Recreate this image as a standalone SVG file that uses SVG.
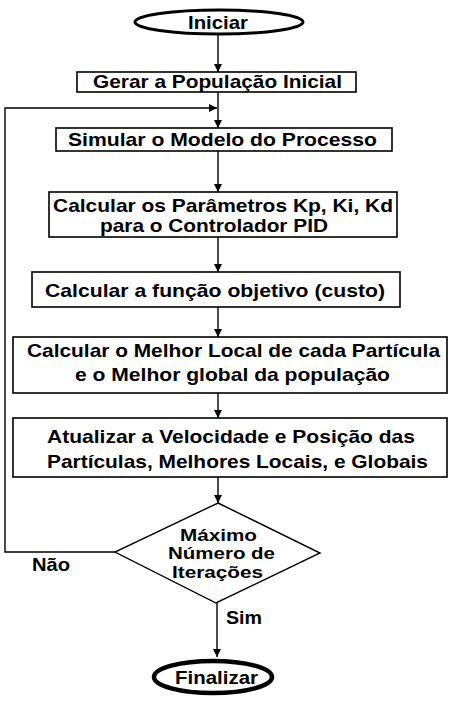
<svg xmlns="http://www.w3.org/2000/svg" width="461" height="708" viewBox="0 0 461 708">
<style>
text{font-family:"Liberation Sans",Arial,sans-serif;font-weight:bold;font-size:19px;fill:#000}
.dt{font-size:16.5px}
.box{fill:#fff;stroke:#000;stroke-width:1.6}
.ln{fill:none;stroke:#000;stroke-width:1.4}
</style>
<defs>
<marker id="ah" viewBox="0 0 10 10" refX="10" refY="5" markerWidth="8" markerHeight="8" markerUnits="userSpaceOnUse" orient="auto">
<path d="M0,0 L10,5 L0,10 Z" fill="#000"/>
</marker>
</defs>
<rect width="461" height="708" fill="#fff"/>
<g id="connectors">
<line class="ln" x1="218" y1="34" x2="218" y2="72" marker-end="url(#ah)"/>
<line class="ln" x1="218" y1="92" x2="218" y2="128" marker-end="url(#ah)"/>
<line class="ln" x1="218" y1="151" x2="218" y2="192" marker-end="url(#ah)"/>
<line class="ln" x1="218" y1="237" x2="218" y2="272" marker-end="url(#ah)"/>
<line class="ln" x1="218" y1="307" x2="218" y2="337" marker-end="url(#ah)"/>
<line class="ln" x1="218" y1="393" x2="218" y2="418" marker-end="url(#ah)"/>
<line class="ln" x1="218" y1="477" x2="218" y2="503" marker-end="url(#ah)"/>
<line class="ln" x1="217" y1="603" x2="217" y2="657" marker-end="url(#ah)"/>
<polyline class="ln" points="115,552 5,552 5,108 217,108" marker-end="url(#ah)"/>
<text x="32" y="571" textLength="38" lengthAdjust="spacingAndGlyphs">Não</text>
<text x="226" y="624" textLength="36" lengthAdjust="spacingAndGlyphs">Sim</text>
</g>
<g id="iniciar">
<ellipse cx="219" cy="22" rx="84" ry="12" fill="#fff" stroke="#000" stroke-width="3"/>
<text x="188" y="29" textLength="60" lengthAdjust="spacingAndGlyphs">Iniciar</text>
</g>
<g id="gerar">
<rect class="box" x="77" y="72" width="279" height="20"/>
<text x="93" y="88" textLength="249" lengthAdjust="spacingAndGlyphs">Gerar a População Inicial</text>
</g>
<g id="simular">
<rect class="box" x="56" y="128" width="336" height="23"/>
<text x="68" y="146" textLength="309" lengthAdjust="spacingAndGlyphs">Simular o Modelo do Processo</text>
</g>
<g id="parametros">
<rect class="box" x="49" y="192" width="348" height="45"/>
<text x="53" y="212" textLength="340" lengthAdjust="spacingAndGlyphs">Calcular os Parâmetros Kp, Ki, Kd</text>
<text x="100" y="232" textLength="228" lengthAdjust="spacingAndGlyphs">para o  Controlador PID</text>
</g>
<g id="funcao">
<rect class="box" x="32" y="272" width="368" height="35"/>
<text x="45" y="297" textLength="340" lengthAdjust="spacingAndGlyphs">Calcular a função objetivo (custo)</text>
</g>
<g id="melhor">
<rect class="box" x="13" y="337" width="434" height="56"/>
<text x="27" y="357" textLength="413" lengthAdjust="spacingAndGlyphs">Calcular o Melhor Local de cada Partícula</text>
<text x="75" y="381" textLength="315" lengthAdjust="spacingAndGlyphs">e o Melhor global da população</text>
</g>
<g id="atualizar">
<rect class="box" x="13" y="418" width="434" height="59"/>
<text x="47" y="443" textLength="368" lengthAdjust="spacingAndGlyphs">Atualizar a Velocidade e Posição das</text>
<text x="47" y="468" textLength="381" lengthAdjust="spacingAndGlyphs">Partículas, Melhores Locais, e Globais</text>
</g>
<g id="decisao">
<polygon points="218,503 320,553 216,603 115,552" fill="#fff" stroke="#000" stroke-width="1.4"/>
<text class="dt" x="180" y="540.5" textLength="77" lengthAdjust="spacingAndGlyphs">Máximo</text>
<text class="dt" x="168" y="559" textLength="107" lengthAdjust="spacingAndGlyphs">Número de</text>
<text class="dt" x="172" y="577.5" textLength="91" lengthAdjust="spacingAndGlyphs">Iterações</text>
</g>
<g id="finalizar">
<ellipse cx="213" cy="677" rx="59" ry="16" fill="#fff" stroke="#000" stroke-width="4.5"/>
<text x="175" y="684" textLength="83" lengthAdjust="spacingAndGlyphs">Finalizar</text>
</g>
</svg>
